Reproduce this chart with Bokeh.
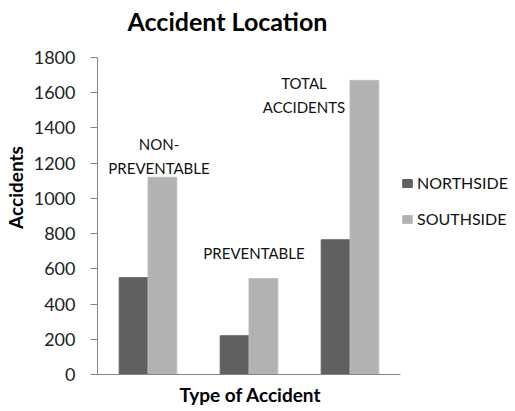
from bokeh.plotting import figure
from bokeh.models import (Range1d, ColumnDataSource, Legend, LegendItem, FixedTicker,
                          Title, Label)
from bokeh.transform import dodge
from bokeh.core.properties import value
from bokeh.embed import file_html
from bokeh.resources import INLINE

categories = ["NON-PREVENTABLE", "PREVENTABLE", "TOTAL ACCIDENTS"]
category_labels = ["NON-\nPREVENTABLE", "PREVENTABLE", "TOTAL\nACCIDENTS"]
northside = [550, 220, 765]
southside = [1120, 545, 1670]
y_ticks = [0, 200, 400, 600, 800, 1000, 1200, 1400, 1600, 1800]
y_max = 1800

FONT = "Lato"
NORTH_COLOR = "#606060"
SOUTH_COLOR = "#b2b2b2"
AXIS_COLOR = "#868686"

# layout (pixels)
PLOT_W, PLOT_H = 303, 317      # axis area of the original chart
TOP_SPACE = 57                 # room above the axis for the title
FRAME_W = 416                  # axis area + room for the legend on the right
FRAME_H = PLOT_H + TOP_SPACE

n = len(categories)
x_center = [i + 0.5 for i in range(n)]

src = ColumnDataSource(dict(x=x_center, cat=categories, north=northside, south=southside,
                            label=category_labels,
                            xo=[11, 5, -46], yo=[0, -17, 36]))

p = figure(x_range=Range1d(0, n * FRAME_W / PLOT_W),
           y_range=Range1d(0, y_max * FRAME_H / PLOT_H),
           frame_width=FRAME_W, frame_height=FRAME_H, title=None,
           output_backend="svg", toolbar_location=None,
           min_border_left=96, min_border_right=0, min_border_top=0, min_border_bottom=0)

w = 0.285
rn = p.vbar(x=dodge("x", -w / 2), top="north", width=w, source=src,
            fill_color=NORTH_COLOR, line_color=NORTH_COLOR)
rs = p.vbar(x=dodge("x", w / 2), top="south", width=w, source=src,
            fill_color=SOUTH_COLOR, line_color="#bcbcbc")

p.text(x="x", y="south", text="label", x_offset="xo", y_offset="yo", source=src,
       text_font=value(FONT), text_font_size="15px", text_align="center",
       text_baseline="bottom", text_color="#111111", text_line_height=1.35)

title = Label(x=0, y=y_max, x_offset=30, y_offset=37, text="Accident Location",
              text_font=FONT, text_font_size="25px", text_font_style="bold",
              text_color="#000000", text_align="left", text_baseline="alphabetic")
p.add_layout(title)

legend = Legend(items=[LegendItem(label="NORTHSIDE", renderers=[rn]),
                       LegendItem(label="SOUTHSIDE", renderers=[rs])],
                location=(PLOT_W + 1, 146), glyph_width=12, glyph_height=10,
                label_standoff=4, spacing=17, padding=0, margin=0,
                label_text_font=FONT, label_text_font_size="16px",
                label_text_color="#111111", border_line_color=None,
                background_fill_alpha=0)
p.add_layout(legend, "center")

xtitle = Title(text="Type of Accident", align="left", offset=82, standoff=12,
               text_font=FONT, text_font_size="19px", text_font_style="bold",
               text_color="#000000")
p.add_layout(xtitle, "below")

p.xgrid.grid_line_color = None
p.ygrid.grid_line_color = None
p.outline_line_color = None

p.yaxis.ticker = FixedTicker(ticks=y_ticks)
p.yaxis.bounds = (0, y_max)
p.yaxis.axis_line_color = AXIS_COLOR
p.yaxis.major_tick_line_color = AXIS_COLOR
p.yaxis.major_tick_out = 7
p.yaxis.major_tick_in = 0
p.yaxis.minor_tick_line_color = None
p.yaxis.major_label_text_font = FONT
p.yaxis.major_label_text_font_size = "18px"
p.yaxis.major_label_text_color = "#222222"
p.yaxis.major_label_standoff = 15
p.yaxis.axis_label = "Accidents"
p.yaxis.axis_label_text_font = FONT
p.yaxis.axis_label_text_font_size = "19px"
p.yaxis.axis_label_text_font_style = "bold"
p.yaxis.axis_label_text_color = "#000000"
p.yaxis.axis_label_standoff = 4

p.xaxis.ticker = FixedTicker(ticks=[])
p.xaxis.bounds = (0, n)
p.xaxis.axis_line_color = AXIS_COLOR
p.xaxis.major_tick_line_color = None
p.xaxis.minor_tick_line_color = None
p.xaxis.major_tick_out = 0
p.xaxis.major_label_standoff = 0
p.xaxis.major_label_text_font_size = "0px"

open("out.html", "w").write(file_html(p, INLINE))
